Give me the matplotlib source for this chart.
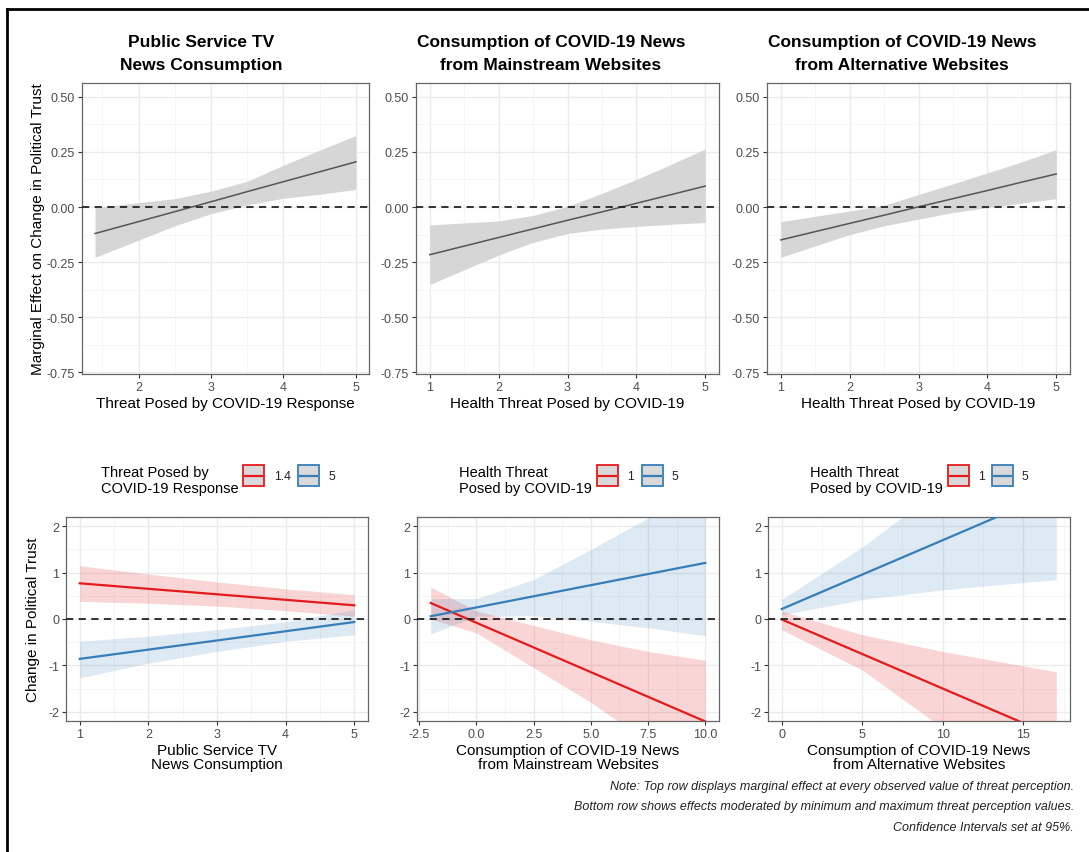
import matplotlib
matplotlib.use("Agg")
import matplotlib.pyplot as plt
from matplotlib.patches import Rectangle
from matplotlib.lines import Line2D
from matplotlib.ticker import MultipleLocator

plt.rcParams["font.family"] = ["Liberation Sans", "DejaVu Sans"]
plt.rcParams["axes.unicode_minus"] = False

# ---- top row: marginal effects across threat perception ----
tv_x = [1.4, 2, 2.5, 3, 3.5, 4, 4.5, 5]
tv_me = [-0.120, -0.066, -0.021, 0.024, 0.070, 0.115, 0.160, 0.205]
tv_hi = [-0.003, 0.020, 0.038, 0.072, 0.117, 0.190, 0.258, 0.325]
tv_lo = [-0.228, -0.150, -0.085, -0.030, 0.010, 0.040, 0.058, 0.080]

ms_x = [1, 2, 2.5, 3, 3.5, 4, 4.5, 5]
ms_me = [-0.216, -0.138, -0.099, -0.060, -0.022, 0.017, 0.056, 0.095]
ms_hi = [-0.081, -0.063, -0.038, 0.003, 0.062, 0.125, 0.193, 0.263]
ms_lo = [-0.351, -0.218, -0.160, -0.120, -0.100, -0.088, -0.078, -0.070]

alt_x = [1, 2, 2.5, 3, 3.5, 4, 4.5, 5]
alt_me = [-0.149, -0.074, -0.037, 0.001, 0.038, 0.075, 0.113, 0.150]
alt_hi = [-0.066, -0.018, 0.008, 0.057, 0.105, 0.155, 0.205, 0.260]
alt_lo = [-0.228, -0.125, -0.085, -0.055, -0.025, -0.003, 0.018, 0.038]

# ---- bottom row: predicted change at min / max threat ----
b1_x = [1, 2, 3, 4, 5]
b1_low_fit = [0.770, 0.651, 0.533, 0.414, 0.295]
b1_low_hi = [1.15, 0.97, 0.80, 0.65, 0.525]
b1_low_lo = [0.38, 0.34, 0.28, 0.18, 0.06]
b1_high_fit = [-0.860, -0.661, -0.463, -0.264, -0.065]
b1_high_hi = [-0.48, -0.37, -0.23, -0.06, 0.20]
b1_high_lo = [-1.27, -0.95, -0.70, -0.48, -0.34]

b2_x = [-2, 0, 2.5, 5, 7.5, 10]
b2_low_fit = [0.345, -0.082, -0.614, -1.146, -1.678, -2.21]
b2_low_hi = [0.69, 0.17, -0.14, -0.45, -0.70, -0.89]
b2_low_lo = [0.00, -0.30, -1.05, -1.80, -2.65, -3.53]
b2_high_fit = [0.06, 0.25, 0.49, 0.73, 0.97, 1.21]
b2_high_hi = [0.44, 0.44, 0.85, 1.50, 2.18, 2.80]
b2_high_lo = [-0.32, 0.06, 0.07, -0.05, -0.19, -0.36]

b3_x = [0, 5, 10, 17.05]
b3_low_fit = [-0.01, -0.755, -1.50, -2.55]
b3_low_hi = [0.17, -0.34, -0.70, -1.14]
b3_low_lo = [-0.23, -1.10, -2.35, -4.0]
b3_high_fit = [0.215, 0.958, 1.70, 2.75]
b3_high_hi = [0.42, 1.55, 2.85, 4.7]
b3_high_lo = [0.09, 0.42, 0.63, 0.85]

titles = ["Public Service TV\nNews Consumption",
          "Consumption of COVID-19 News\nfrom Mainstream Websites",
          "Consumption of COVID-19 News\nfrom Alternative Websites"]
top_xlabels = ["Threat Posed by COVID-19 Response",
               "Health Threat Posed by COVID-19",
               "Health Threat Posed by COVID-19"]
bottom_xlabels = ["Public Service TV\nNews Consumption",
                  "Consumption of COVID-19 News\nfrom Mainstream Websites",
                  "Consumption of COVID-19 News\nfrom Alternative Websites"]
legend_titles = ["Threat Posed by\nCOVID-19 Response",
                 "Health Threat\nPosed by COVID-19",
                 "Health Threat\nPosed by COVID-19"]
legend_labels = [["1.4", "5"], ["1", "5"], ["1", "5"]]

RED = "#E41A1C"
BLUE = "#377EB8"
W, H = 1089, 853

fig = plt.figure(figsize=(W / 100, H / 100), dpi=100)


def add_ax(x0, x1, y0, y1):
    return fig.add_axes([x0 / W, 1 - y1 / H, (x1 - x0) / W, (y1 - y0) / H])


def style(ax, xmajor, ymajor):
    ax.xaxis.set_major_locator(MultipleLocator(xmajor))
    ax.xaxis.set_minor_locator(MultipleLocator(xmajor / 2))
    ax.yaxis.set_major_locator(MultipleLocator(ymajor))
    ax.yaxis.set_minor_locator(MultipleLocator(ymajor / 2))
    ax.grid(which="major", color="#EBEBEB", lw=1.0, zorder=0)
    ax.grid(which="minor", color="#F4F4F4", lw=0.6, zorder=0)
    ax.set_axisbelow(True)
    for s in ax.spines.values():
        s.set_color("#666666")
        s.set_linewidth(0.9)
    ax.tick_params(which="major", length=3, width=0.8, color="#333333",
                   labelsize=9, labelcolor="#4D4D4D", pad=2)
    ax.tick_params(which="minor", length=0)
    ax.axhline(0, color="#222222", lw=1.3, ls=(0, (4, 3)), zorder=4)


# top row panels
top_boxes = [(82, 369), (416, 719), (767, 1070)]
top_data = [(tv_x, tv_me, tv_lo, tv_hi),
            (ms_x, ms_me, ms_lo, ms_hi),
            (alt_x, alt_me, alt_lo, alt_hi)]
title_centers = [201, 551, 902]
for i, ((x0, x1), (x, me, lo, hi)) in enumerate(zip(top_boxes, top_data)):
    ax = add_ax(x0, x1, 84, 375)
    ax.fill_between(x, lo, hi, color="#D6D6D6", lw=0, zorder=2)
    ax.plot(x, me, color="#555555", lw=1.1, zorder=3)
    style(ax, 1, 0.25)
    ax.set_ylim(-0.757, 0.5625)
    span = x[-1] - x[0]
    ax.set_xlim(x[0] - 0.05 * span, x[-1] + 0.05 * span)
    ax.yaxis.set_major_formatter(plt.FuncFormatter(lambda v, p: f"{v:.2f}"))
    ax.set_xlabel(top_xlabels[i], fontsize=11, labelpad=2)
    if i == 0:
        ax.set_ylabel("Marginal Effect on Change in Political Trust", fontsize=11, labelpad=1)
    fig.text(title_centers[i] / W, 1 - 54 / H, titles[i], ha="center", va="center",
             fontsize=12.5, fontweight="bold", linespacing=1.6)

# bottom row panels
bottom_boxes = [(66, 368), (417, 719), (768, 1070)]
bottom_data = [
    (b1_x, b1_low_fit, b1_low_lo, b1_low_hi, b1_high_fit, b1_high_lo, b1_high_hi, 1),
    (b2_x, b2_low_fit, b2_low_lo, b2_low_hi, b2_high_fit, b2_high_lo, b2_high_hi, 2.5),
    (b3_x, b3_low_fit, b3_low_lo, b3_low_hi, b3_high_fit, b3_high_lo, b3_high_hi, 5),
]
for i, ((x0, x1), d) in enumerate(zip(bottom_boxes, bottom_data)):
    x, lf, ll, lh, hf, hl, hh, step = d
    ax = add_ax(x0, x1, 518, 722)
    ax.fill_between(x, ll, lh, color=RED, alpha=0.18, lw=0, zorder=2)
    ax.fill_between(x, hl, hh, color=BLUE, alpha=0.17, lw=0, zorder=2)
    ax.plot(x, lf, color=RED, lw=1.6, zorder=3)
    ax.plot(x, hf, color=BLUE, lw=1.6, zorder=3)
    style(ax, step, 1)
    ax.set_ylim(-2.2, 2.2)
    span = x[-1] - x[0]
    ax.set_xlim(x[0] - 0.05 * span, x[-1] + 0.05 * span)
    if i == 1:
        ax.xaxis.set_major_formatter(plt.FuncFormatter(lambda v, p: f"{v:.1f}"))
    ax.set_xlabel(bottom_xlabels[i], fontsize=11, labelpad=2, linespacing=1.05)
    if i == 0:
        ax.set_ylabel("Change in Political Trust", fontsize=11, labelpad=6)

# legends above the bottom panels (pixel positions)
legend_pos = [(101, 243, 274, 298, 328), (459, 597, 627, 642, 671), (810, 948, 978, 992, 1022)]
for (tx, rx, rlx, bx, blx), ltitle, labs in zip(legend_pos, legend_titles, legend_labels):
    fig.text(tx / W, 1 - 481 / H, ltitle, ha="left", va="center", fontsize=10.5,
             linespacing=1.1)
    for kx, lx, col, lab in [(rx, rlx, RED, labs[0]), (bx, blx, BLUE, labs[1])]:
        fig.add_artist(Rectangle((kx / W, 1 - 487 / H), 21 / W, 21 / H,
                                 transform=fig.transFigure, facecolor="#D9D9D9",
                                 edgecolor=col, lw=1.3))
        fig.add_artist(Line2D([(kx + 2) / W, (kx + 19) / W], [1 - 476.5 / H] * 2,
                              transform=fig.transFigure, color=col, lw=1.6))
        fig.text(lx / W, 1 - 477 / H, lab, ha="left", va="center", fontsize=8.8,
                 color="#222222")

# note text
notes = ["Note: Top row displays marginal effect at every observed value of threat perception.",
         "Bottom row shows effects moderated by minimum and maximum threat perception values.",
         "Confidence Intervals set at 95%."]
for k, line in enumerate(notes):
    fig.text(1074 / W, 1 - (787 + 20.5 * k) / H, line, ha="right", va="center",
             fontsize=9, style="italic", color="#222222")

# outer frame lines on the left and top
fig.add_artist(Line2D([7 / W, 7 / W], [0, 1 - 10 / H], transform=fig.transFigure,
                      color="black", lw=2))
fig.add_artist(Line2D([7 / W, 1], [1 - 10 / H, 1 - 10 / H], transform=fig.transFigure,
                      color="black", lw=2))

fig.savefig("out.png", dpi=100)
